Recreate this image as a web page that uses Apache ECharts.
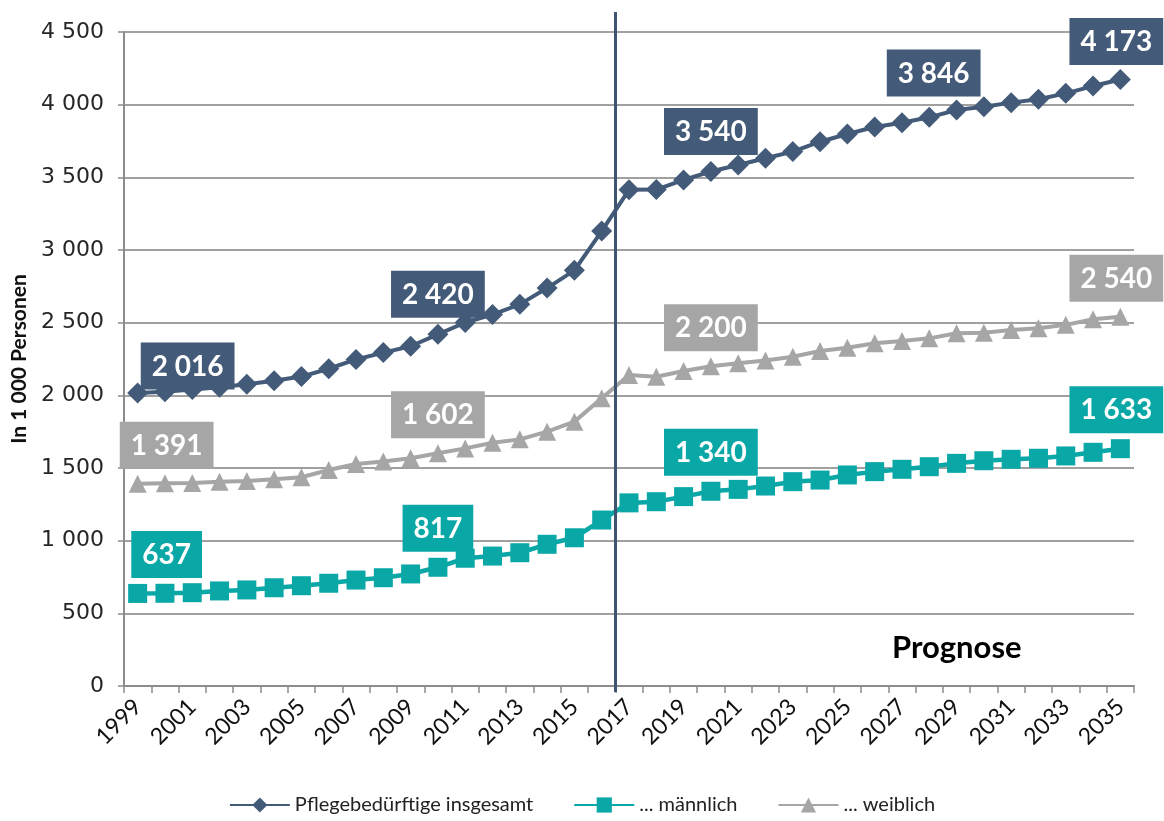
<!DOCTYPE html>
<html>
<head>
    <meta charset="utf-8">
    <title>Pflegebedürftige 1999 - 2035</title>
    <script src="https://cdn.jsdelivr.net/npm/echarts@6/dist/echarts.min.js"></script>
    <style>
        html, body { margin: 0; padding: 0; background: #fff; }
        #chart { width: 1164px; height: 821px; }
    </style>
</head>
<body>
<div id="chart"></div>
<script>
    // Jahre
    var years = ['1999', '2000', '2001', '2002', '2003', '2004', '2005', '2006', '2007', '2008',
        '2009', '2010', '2011', '2012', '2013', '2014', '2015', '2016', '2017', '2018',
        '2019', '2020', '2021', '2022', '2023', '2024', '2025', '2026', '2027', '2028',
        '2029', '2030', '2031', '2032', '2033', '2034', '2035'];

    // in 1 000 Personen
    var insgesamt = [2016, 2025, 2040, 2055, 2077, 2100, 2129, 2183, 2247, 2294,
        2338, 2420, 2501, 2556, 2626, 2738, 2860, 3130, 3414, 3416,
        3482, 3540, 3585, 3631, 3677, 3745, 3798, 3846, 3876, 3913,
        3963, 3986, 4014, 4037, 4078, 4128, 4173];
    var maennlich = [637, 638, 642, 654, 661, 676, 690, 707, 729, 745,
        771, 817, 879, 894, 917, 975, 1020, 1142, 1260, 1268,
        1303, 1340, 1353, 1376, 1406, 1417, 1452, 1475, 1491, 1509,
        1532, 1550, 1560, 1567, 1583, 1608, 1633];
    var weiblich = [1391, 1395, 1397, 1406, 1411, 1422, 1436, 1486, 1528, 1544,
        1567, 1602, 1635, 1674, 1697, 1750, 1819, 1980, 2140, 2128,
        2167, 2200, 2220, 2239, 2266, 2305, 2328, 2358, 2374, 2392,
        2427, 2431, 2450, 2461, 2485, 2523, 2540];

    // Jahre mit Wert-Kästchen
    var labelYearsInsgesamt = ['1999', '2010', '2020', '2026', '2035'];
    var labelYearsMaennlich = ['1999', '2010', '2020', '2035'];
    var labelYearsWeiblich = ['1999', '2010', '2020', '2035'];

    // Prognose ab 2017 (Grenze zwischen 2016 und 2017, Kategorie-Index)
    var prognoseAb = 17.5;

    var colInsgesamt = '#435a78';
    var colMaennlich = '#0aa7a7';
    var colWeiblich = '#a6a6a6';

    function fmt(v) {
        return String(v).replace(/\B(?=(\d{3})+(?!\d))/g, ' ');
    }

    function buildData(values, labelYears, color, offsets) {
        return values.map(function (v, i) {
            var y = years[i];
            if (labelYears.indexOf(y) < 0) return v;
            return {
                value: v,
                label: {
                    show: true,
                    position: 'top',
                    distance: 6,
                    offset: offsets[y] || [0, 0],
                    formatter: fmt(v),
                    backgroundColor: color,
                    color: '#fff',
                    fontFamily: 'Lato',
                    fontWeight: 'bold',
                    fontSize: 28,
                    lineHeight: 32,
                    padding: [8, 11, 7, 11]
                }
            };
        });
    }

    var myChart = echarts.init(document.getElementById('chart'));

    myChart.setOption({
        animation: false,
        backgroundColor: '#fff',
        grid: [
            {left: 124, right: 30, top: 32, bottom: 135},
            // nur für die senkrechte Prognose-Linie
            {left: 124, right: 30, top: 12, bottom: 129}
        ],
        legend: {
            data: ['Pflegebedürftige insgesamt', '... männlich', '... weiblich'],
            bottom: 1,
            left: 'center',
            itemWidth: 60,
            itemHeight: 19,
            itemGap: 40,
            textStyle: {fontFamily: 'Lato', fontSize: 20, color: '#222'}
        },
        xAxis: [{
            type: 'category',
            data: years,
            boundaryGap: true,
            axisLine: {lineStyle: {color: '#8c8c8c', width: 2}},
            axisTick: {show: true, interval: 0, length: 7, lineStyle: {color: '#8c8c8c', width: 1.5}},
            axisLabel: {
                interval: 1,
                rotate: 45,
                margin: 17,
                fontFamily: 'Lato',
                fontSize: 23,
                color: '#111'
            },
            splitLine: {show: false}
        }, {
            type: 'value',
            gridIndex: 1,
            min: -0.5,
            max: 36.5,
            show: false
        }],
        yAxis: [{
            type: 'value',
            min: 0,
            max: 4500,
            interval: 500,
            name: 'In 1 000 Personen',
            nameLocation: 'middle',
            nameGap: 92,
            nameTextStyle: {fontFamily: 'Lato', fontWeight: 'bold', fontSize: 21, color: '#111'},
            axisLine: {show: true, lineStyle: {color: '#8c8c8c', width: 2}},
            axisTick: {show: true, length: 6, lineStyle: {color: '#8c8c8c', width: 1.5}},
            axisLabel: {
                margin: 20,
                fontFamily: 'DejaVu Sans',
                fontSize: 22,
                color: '#262626',
                formatter: function (v) { return fmt(v); }
            },
            splitLine: {lineStyle: {color: '#a0a0a0', width: 2}}
        }, {
            type: 'value',
            gridIndex: 1,
            min: 0,
            max: 1,
            show: false
        }],
        graphic: [{
            type: 'text',
            left: 892,
            top: 632,
            style: {text: 'Prognose', font: 'bold 31px Lato', fill: '#000'}
        }],
        series: [{
            name: 'Pflegebedürftige insgesamt',
            type: 'line',
            data: buildData(insgesamt, labelYearsInsgesamt, colInsgesamt,
                {'1999': [50, 13], '2026': [59, -14], '2035': [-4, 2]}),
            symbol: 'diamond',
            symbolSize: 21,
            showAllSymbol: true,
            color: colInsgesamt,
            lineStyle: {width: 4, color: colInsgesamt}
        }, {
            name: '... männlich',
            type: 'line',
            data: buildData(maennlich, labelYearsMaennlich, colMaennlich,
                {'1999': [29, 0], '2035': [-4, 0]}),
            symbol: 'rect',
            symbolSize: 19,
            showAllSymbol: true,
            color: colMaennlich,
            lineStyle: {width: 4.5, color: colMaennlich}
        }, {
            name: '... weiblich',
            type: 'line',
            data: buildData(weiblich, labelYearsWeiblich, colWeiblich,
                {'1999': [29, 0], '2035': [-4, 0]}),
            symbol: 'triangle',
            symbolSize: 18,
            showAllSymbol: true,
            color: colWeiblich,
            lineStyle: {width: 4, color: colWeiblich}
        }, {
            name: 'prognose',
            type: 'line',
            xAxisIndex: 1,
            yAxisIndex: 1,
            data: [],
            silent: true,
            markLine: {
                silent: true,
                symbol: 'none',
                label: {show: false},
                lineStyle: {color: '#3e5470', width: 3, type: 'solid'},
                data: [{xAxis: prognoseAb}]
            }
        }]
    });
</script>
</body>
</html>
